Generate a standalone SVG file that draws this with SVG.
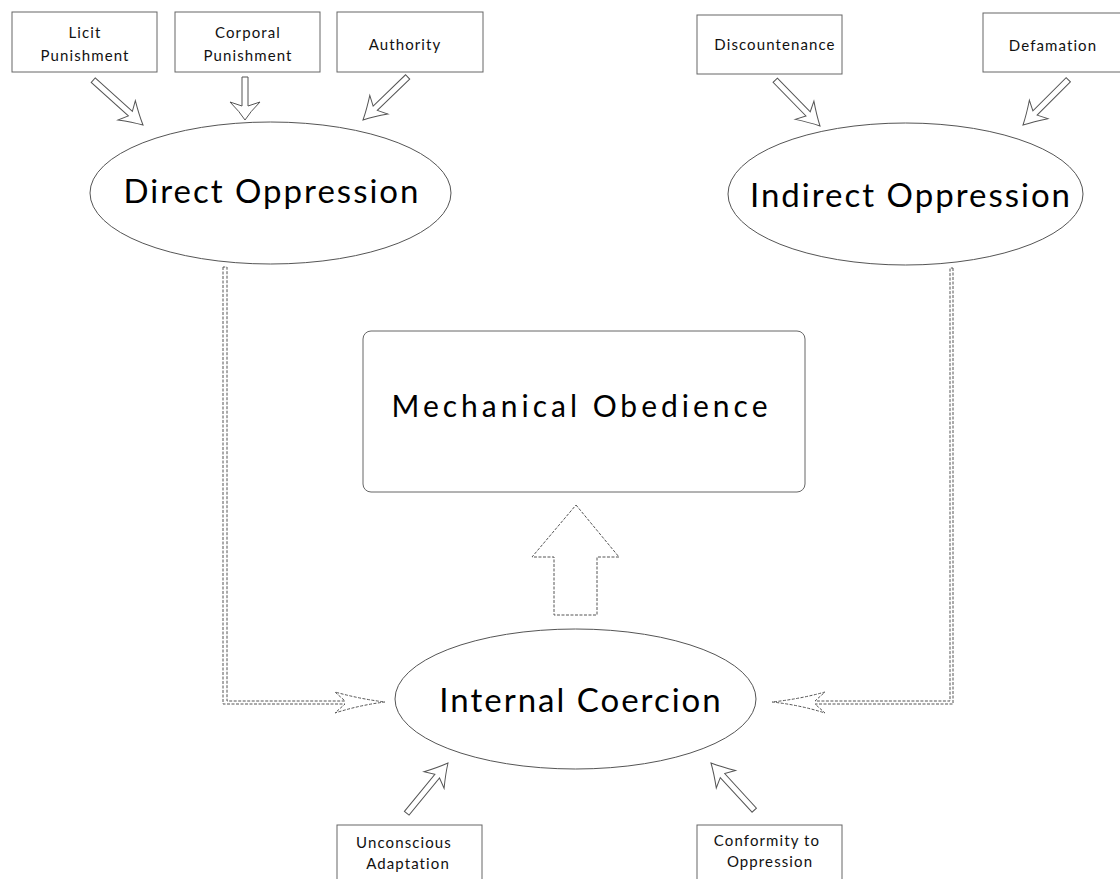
<svg xmlns="http://www.w3.org/2000/svg" width="1120" height="879" viewBox="0 0 1120 879">
<style>
.box{fill:#fff;stroke:#666;stroke-width:1}
.ell{fill:#fff;stroke:#555;stroke-width:1}
.sm{font-family:Lato,"Noto Sans",sans-serif;font-size:15px;fill:#111;text-anchor:middle;letter-spacing:1.1px}
.big{font-family:Lato,"Noto Sans",sans-serif;font-size:33px;fill:#000;text-anchor:middle;letter-spacing:2px}
.mid{font-family:Lato,"Noto Sans",sans-serif;font-size:30px;fill:#000;text-anchor:middle;letter-spacing:4px}
.arr{fill:#fff;stroke:#555;stroke-width:1;stroke-linejoin:miter}
.dash{fill:#fff;stroke:#555;stroke-width:1;stroke-dasharray:3 1.5}
</style>
<rect width="1120" height="879" fill="#fff"/>
<g id="connectors">
  <path class="arr" transform="translate(143,125) rotate(42)" d="M-67,-3 L-17,-3 L-22,-13 Q-10,-5 0,0 Q-10,5 -22,13 L-17,3 L-67,3 Z"/>
  <path class="arr" transform="translate(245,120) rotate(90)" d="M-43,-3 L-14,-3 L-18,-15 Q-8,-5 0,0 Q-8,5 -18,15 L-14,3 L-43,3 Z"/>
  <path class="arr" transform="translate(363,120) rotate(136)" d="M-62,-3 L-17,-3 L-22,-13 Q-10,-5 0,0 Q-10,5 -22,13 L-17,3 L-62,3 Z"/>
  <path class="arr" transform="translate(820,126) rotate(45.6)" d="M-64,-3 L-17,-3 L-22,-13 Q-10,-5 0,0 Q-10,5 -22,13 L-17,3 L-64,3 Z"/>
  <path class="arr" transform="translate(1023,125) rotate(135)" d="M-64,-3 L-17,-3 L-22,-13 Q-10,-5 0,0 Q-10,5 -22,13 L-17,3 L-64,3 Z"/>
  <path class="arr" transform="translate(448,763) rotate(-50.6)" d="M-65,-3 L-17,-3 L-22,-13 Q-10,-5 0,0 Q-10,5 -22,13 L-17,3 L-65,3 Z"/>
  <path class="arr" transform="translate(711,763) rotate(-132.5)" d="M-64,-3 L-17,-3 L-22,-13 Q-10,-5 0,0 Q-10,5 -22,13 L-17,3 L-64,3 Z"/>
  <path class="dash" d="M223,267 L223,704 L345,704 L335,713 Q360,705 385,702 Q360,699 335,692 L345,701 L227,701 L227,267 Z"/>
  <path class="dash" d="M953,268 L953,704 L815,704 L825,713 Q800,705 772,702 Q800,699 825,692 L815,701 L950,701 L950,268 Z"/>
  <path class="dash" d="M576,505 L619,557 L597,557 L597,615 L554,615 L554,557 L532,557 Z"/>
</g>
<g id="licit">
  <rect class="box" x="12" y="12" width="145" height="60"/>
  <text class="sm" x="85" y="38">Licit</text>
  <text class="sm" x="85" y="61">Punishment</text>
</g>
<g id="corporal">
  <rect class="box" x="175" y="12" width="145" height="60"/>
  <text class="sm" x="248" y="38">Corporal</text>
  <text class="sm" x="248" y="61">Punishment</text>
</g>
<g id="authority">
  <rect class="box" x="337" y="12" width="146" height="60"/>
  <text class="sm" x="405" y="50">Authority</text>
</g>
<g id="discountenance">
  <rect class="box" x="697" y="15" width="145" height="59"/>
  <text class="sm" x="775" y="50">Discountenance</text>
</g>
<g id="defamation">
  <rect class="box" x="983" y="13" width="145" height="59"/>
  <text class="sm" x="1053" y="51">Defamation</text>
</g>
<g id="direct">
  <ellipse class="ell" cx="270.5" cy="193" rx="180.5" ry="71"/>
  <text class="big" x="272" y="203">Direct Oppression</text>
</g>
<g id="indirect">
  <ellipse class="ell" cx="905.5" cy="194" rx="177.5" ry="71"/>
  <text class="big" x="911" y="207">Indirect Oppression</text>
</g>
<g id="mechanical">
  <rect class="box" x="363" y="331" width="442" height="161" rx="8"/>
  <text class="mid" x="581.5" y="417">Mechanical Obedience</text>
</g>
<g id="internal">
  <ellipse class="ell" cx="575.5" cy="699" rx="180.5" ry="70"/>
  <text class="big" x="581" y="712">Internal Coercion</text>
</g>
<g id="unconscious">
  <rect class="box" x="337" y="825" width="145" height="60"/>
  <text class="sm" x="404" y="848">Unconscious</text>
  <text class="sm" x="408" y="869">Adaptation</text>
</g>
<g id="conformity">
  <rect class="box" x="697" y="825" width="145" height="60"/>
  <text class="sm" x="767" y="846">Conformity to</text>
  <text class="sm" x="770" y="867">Oppression</text>
</g>
</svg>
